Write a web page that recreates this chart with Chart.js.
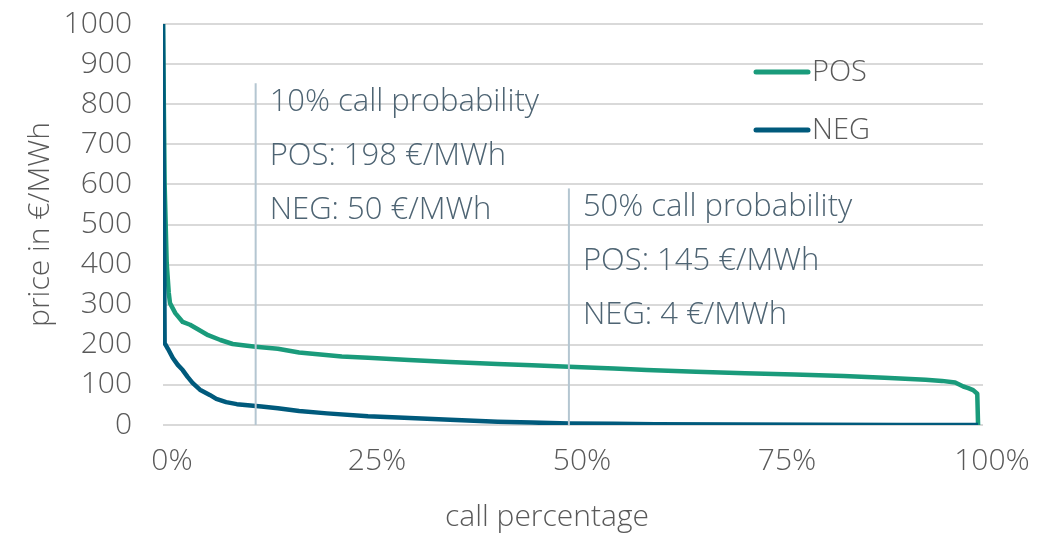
<!DOCTYPE html>
<html>
<head>
<meta charset="utf-8">
<script src="https://cdn.jsdelivr.net/npm/chart.js"></script>
<style>
  html, body { margin: 0; padding: 0; background: #fff; }
  #wrap { width: 1064px; height: 536px; }
</style>
</head>
<body>
<div id="wrap"><canvas id="chart" width="1064" height="536"></canvas></div>
<script>
// call percentage (x) and price in €/MWh (y)
const posPct = [0, 0.2, 0.45, 0.7, 0.85, 1.5, 2.4, 3.3, 4.3, 5.5, 7, 8.5, 10, 11.3, 14, 16.6, 21.8, 25, 30, 35, 40.8, 45, 49.5, 55, 59, 65, 71, 77, 83, 88, 93, 95, 96.6, 97.6, 98.2, 98.8, 99.3, 99.4];
const posVal = [1000, 600, 404, 330, 304, 279, 257, 250, 238, 224, 212, 202, 198, 195, 190, 181, 171, 168, 162, 157, 152, 149, 145, 141, 137, 133, 129, 126, 122, 118, 113, 110, 106, 96, 92, 87, 78, 0];

const negPct = [0, 0.2, 0.6, 1.2, 1.8, 2.4, 3, 3.6, 4.5, 5.7, 6.5, 7.7, 9, 10, 12, 14, 16.6, 20, 25, 28.7, 35, 40.8, 45, 49.5, 55, 60, 70, 80, 90, 99.4];
const negVal = [1000, 204, 190, 167, 150, 137, 120, 105, 88, 75, 65, 57, 52, 50, 46, 42, 35, 29, 22, 19, 13, 8, 6, 4, 3, 2, 1, 0.5, 0.2, 0];

// call probability markers
const markerPct = [11.3, 49.5];
const markerTop = [852, 590];
const markerNotes = [
  ["10% call probability", "POS: 198 €/MWh", "NEG: 50 €/MWh"],
  ["50% call probability", "POS: 145 €/MWh", "NEG: 4 €/MWh"]
];

const xTicks = [0, 25, 50, 75, 100];
const yMax = 1000;

const FONT = "'Open Sans', 'Noto Sans', sans-serif";
const GREY = "#595959";
const NOTE = "#4e6473";
const POS_COLOR = "#1a9b7b";
const NEG_COLOR = "#005a7c";

const toPoints = (xs, ys) => xs.map((x, i) => ({ x: x, y: ys[i] }));

const markerSets = markerPct.map((p, i) => ({
  label: "marker" + i,
  data: [{ x: p, y: 0 }, { x: p, y: markerTop[i] }],
  borderColor: "#b4c6d1",
  borderWidth: 2,
  pointRadius: 0,
  order: 0
}));

// annotation texts, legend and axis titles
const extras = {
  id: "extras",
  afterDraw(chart) {
    const ctx = chart.ctx;
    const xs = chart.scales.x, ys = chart.scales.y;
    ctx.save();
    ctx.textBaseline = "middle";
    ctx.textAlign = "left";
    ctx.font = "300 31px " + FONT;
    ctx.fillStyle = NOTE;
    markerPct.forEach((p, i) => {
      const x = xs.getPixelForValue(p) + 14;
      const top = ys.getPixelForValue(markerTop[i]);
      markerNotes[i].forEach((t, j) => ctx.fillText(t, x, top + 19 + j * 54));
    });

    // legend
    ctx.font = "300 29px " + FONT;
    const items = [chart.data.datasets[0], chart.data.datasets[1]];
    items.forEach((d, i) => {
      const y = 72 + i * 58;
      ctx.strokeStyle = d.borderColor;
      ctx.lineWidth = 5;
      ctx.lineCap = "round";
      ctx.beginPath();
      ctx.moveTo(756, y);
      ctx.lineTo(808, y);
      ctx.stroke();
      ctx.fillStyle = GREY;
      ctx.fillText(d.label, 812, y + 1);
    });

    // axis titles
    ctx.font = "300 30px " + FONT;
    ctx.fillStyle = GREY;
    ctx.textAlign = "center";
    ctx.fillText("call percentage", 547, 517);
    ctx.translate(40, (chart.chartArea.top + chart.chartArea.bottom) / 2);
    ctx.rotate(-Math.PI / 2);
    ctx.fillText("price in €/MWh", 0, 0);
    ctx.restore();
  }
};

new Chart(document.getElementById("chart"), {
  type: "line",
  data: {
    datasets: [
      {
        label: "POS",
        data: toPoints(posPct, posVal),
        borderColor: POS_COLOR,
        borderWidth: 4.5,
        pointRadius: 0,
        tension: 0,
        borderJoinStyle: "round",
        order: 2
      },
      {
        label: "NEG",
        data: toPoints(negPct, negVal),
        borderColor: NEG_COLOR,
        borderWidth: 4.5,
        pointRadius: 0,
        tension: 0,
        borderJoinStyle: "round",
        order: 1
      },
      ...markerSets
    ]
  },
  options: {
    responsive: false,
    animation: false,
    events: [],
    layout: { padding: { top: 24, right: 81, left: 0, bottom: 0 } },
    plugins: {
      legend: { display: false },
      tooltip: { enabled: false }
    },
    scales: {
      x: {
        type: "linear",
        min: 0,
        max: 100,
        afterBuildTicks: (s) => { s.ticks = xTicks.map(v => ({ value: v })); },
        afterFit: (s) => { s.height = 111; s.paddingLeft = 0; s.paddingRight = 0; },
        grid: { display: false, drawTicks: false },
        border: { display: false },
        ticks: {
          color: GREY,
          font: { size: 30, family: FONT, weight: 300 },
          padding: 18,
          labelOffset: 9,
          maxRotation: 0,
          callback: (v) => v + "%"
        }
      },
      y: {
        min: 0,
        max: yMax,
        afterFit: (s) => { s.width = 163; s.paddingTop = 0; s.paddingBottom = 0; },
        grid: { color: "#d9d9d9", lineWidth: 2, drawTicks: false },
        border: { display: false },
        ticks: {
          stepSize: 100,
          color: GREY,
          font: { size: 30, family: FONT, weight: 300 },
          padding: 31,
          callback: (v) => String(v)
        }
      }
    }
  },
  plugins: [extras]
});
</script>
</body>
</html>
